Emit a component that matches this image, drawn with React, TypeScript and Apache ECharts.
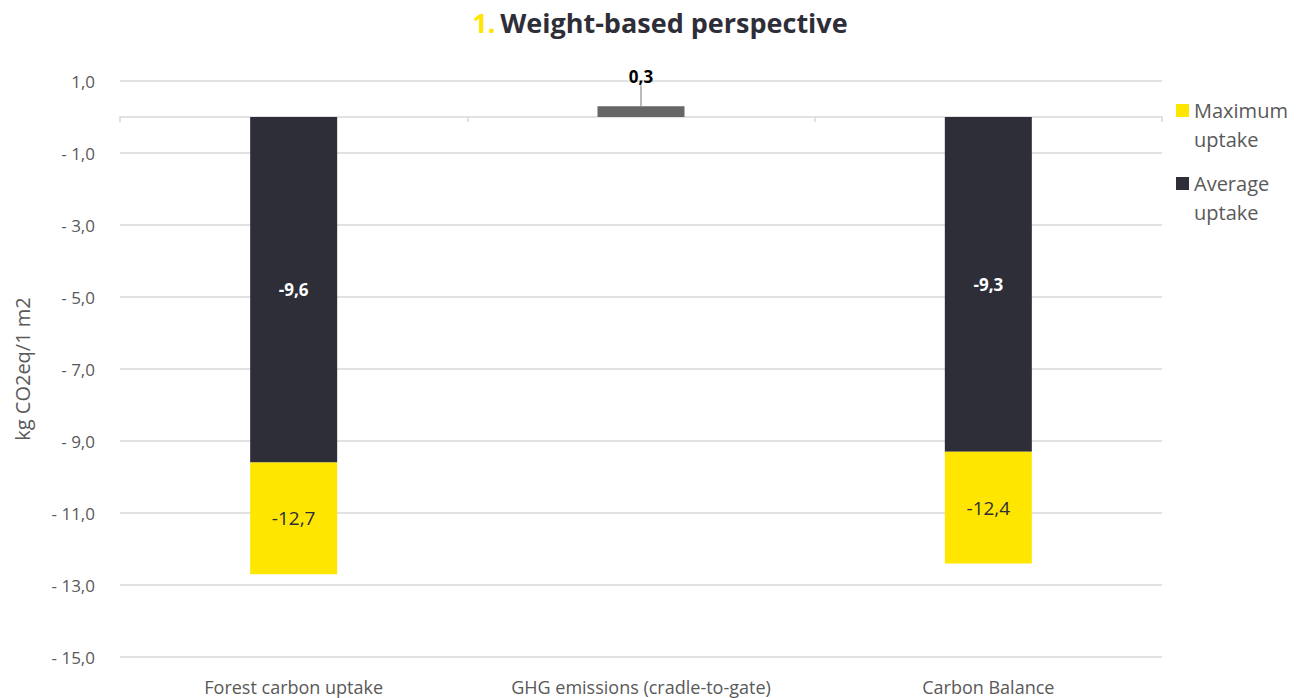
import React, { useEffect, useRef } from "react";
import * as echarts from "echarts";

const categories = ["Forest carbon uptake", "GHG emissions (cradle-to-gate)", "Carbon Balance"];
const averageUptake: (number | null)[] = [-9.6, null, -9.3];
const maximumUptake: (number | null)[] = [-12.7, null, -12.4];
const ghgEmissions: (number | null)[] = [null, 0.3, null];
const yTicks = { min: -15, max: 1, interval: 2 };

const fmt = (v: number) => v.toFixed(1).replace(".", ",");
const axisFmt = (v: number) => (v < 0 ? "- " + fmt(-v) : fmt(v));

const FONT = "'Open Sans', Lato, sans-serif";
const DARK = "#2E2E38";
const YELLOW = "#FFE600";
const GRAYTXT = "#595959";

export default function App() {
  const ref = useRef<HTMLDivElement>(null);
  useEffect(() => {
    if (!ref.current) return;
    const chart = echarts.init(ref.current, undefined, { renderer: "svg" });
    const maxSegment = maximumUptake.map((m, i) =>
      m == null || averageUptake[i] == null ? null : +(m - (averageUptake[i] as number)).toFixed(2)
    );
    chart.setOption({
      animation: false,
      textStyle: { fontFamily: FONT },
      title: {
        text: "{a|1.} {b|Weight-based perspective}",
        left: 655,
        textAlign: "center",
        top: 4,
        textStyle: {
          rich: {
            a: { color: YELLOW, fontSize: 27, fontWeight: "bold", fontFamily: FONT },
            b: { color: DARK, fontSize: 27, fontWeight: "bold", fontFamily: FONT },
          },
        },
      },
      legend: {
        data: ["Maximum uptake", "Average uptake"],
        orient: "vertical",
        left: 1176,
        top: 96,
        padding: 0,
        itemWidth: 13,
        itemHeight: 42,
        itemGap: 15,
        icon: "path://M0,0 H13 V13 H0 Z M0,42 L0.01,42 L0,42 Z",
        formatter: (n: string) => n.replace(" ", "\n"),
        textStyle: { color: GRAYTXT, fontSize: 20, lineHeight: 29, fontFamily: FONT },
      },
      grid: { left: 120, right: 136, top: 81, bottom: 41, containLabel: false },
      xAxis: [
        {
          type: "category",
          data: categories,
          position: "bottom",
          axisLine: { onZero: true, lineStyle: { color: "#D9D9D9", width: 1.5 } },
          axisTick: { show: true, length: 5, lineStyle: { color: "#D9D9D9", width: 1.5 } },
          axisLabel: { show: false },
        },
        {
          type: "category",
          data: categories,
          position: "bottom",
          axisLine: { show: false, onZero: false },
          axisTick: { show: false },
          axisLabel: { color: GRAYTXT, fontSize: 18, margin: 21, fontFamily: FONT },
        },
      ],
      yAxis: {
        type: "value",
        min: yTicks.min,
        max: yTicks.max,
        interval: yTicks.interval,
        name: "kg CO2eq/1 m2",
        nameLocation: "middle",
        nameGap: 88,
        nameTextStyle: { color: GRAYTXT, fontSize: 20, fontFamily: FONT },
        axisLine: { show: false },
        axisTick: { show: false },
        axisLabel: { color: GRAYTXT, fontSize: 17, margin: 25, formatter: axisFmt, fontFamily: FONT },
        splitLine: { lineStyle: { color: "#D9D9D9", width: 1.5 } },
      },
      series: [
        {
          name: "Average uptake",
          type: "bar",
          stack: "total",
          barWidth: 87,
          data: averageUptake,
          itemStyle: { color: DARK },
          label: {
            show: true,
            position: "inside",
            color: "#FFFFFF",
            fontWeight: "bold",
            fontSize: 17,
            fontFamily: FONT,
            formatter: (p: any) => fmt(p.value),
          },
        },
        {
          name: "Maximum uptake",
          type: "bar",
          stack: "total",
          barWidth: 87,
          data: maxSegment,
          itemStyle: { color: YELLOW },
          label: {
            show: true,
            position: "inside",
            color: DARK,
            fontSize: 19,
            fontFamily: FONT,
            formatter: (p: any) => fmt(maximumUptake[p.dataIndex] as number),
          },
        },
        {
          name: "GHG emissions",
          type: "bar",
          stack: "total",
          barWidth: 87,
          data: ghgEmissions,
          itemStyle: { color: "#666666" },
          label: {
            show: true,
            position: "top",
            distance: 2,
            color: "#000000",
            fontWeight: "bold",
            fontSize: 17,
            fontFamily: FONT,
            formatter: (p: any) => fmt(p.value),
          },
          labelLayout: { dy: -19 },
          labelLine: { show: true, lineStyle: { color: "#A6A6A6", width: 1.5 } },
        },
      ],
    });
    return () => chart.dispose();
  }, []);
  return (
    <div
      ref={ref}
      style={{ position: "absolute", left: 0, top: 0, width: 1298, height: 698 }}
    />
  );
}
